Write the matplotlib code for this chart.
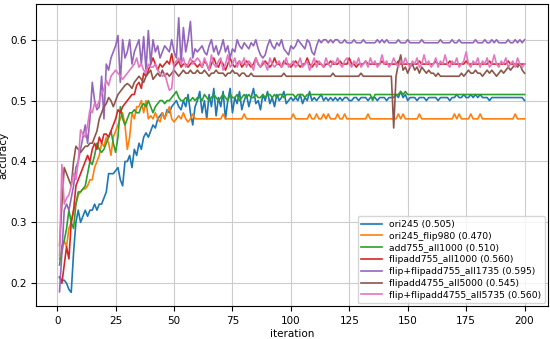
import matplotlib.pyplot as plt
import numpy as np

iteration = np.arange(1, 201)

ori245 = [
    .210, .205, .205, .200, .190, .185, .250, .300, .320, .300, .310, .320, .310, .320, .320, .330, .320, .330, .330, .340,
    .350, .380, .380, .380, .385, .390, .370, .360, .400, .400, .410, .390, .420, .410, .430, .420, .440, .447, .440, .450,
    .460, .455, .470, .475, .480, .470, .485, .480, .490, .495, .500, .490, .485, .500, .490, .510, .480, .460, .490, .500,
    .515, .480, .500, .470, .510, .490, .520, .475, .505, .490, .515, .470, .500, .520, .480, .505, .495, .515, .485, .500,
    .510, .490, .505, .520, .495, .500, .485, .510, .500, .515, .495, .505, .490, .510, .500, .505, .515, .495, .500, .505,
    .500, .505, .500, .510, .495, .505, .500, .515, .500, .505, .500, .505, .510, .500, .505, .500, .505, .500, .505, .500,
    .505, .500, .505, .505, .500, .500, .505, .505, .500, .505, .505, .505, .500, .505, .505, .505, .500, .505, .505, .505,
    .500, .505, .505, .505, .510, .505, .515, .505, .510, .500, .505, .505, .505, .500, .505, .505, .505, .500, .505, .505,
    .505, .505, .500, .505, .505, .505, .505, .500, .505, .505, .510, .505, .505, .510, .505, .505, .510, .505, .510, .505,
    .510, .505, .505, .505, .500, .505, .505, .505, .505, .505, .505, .505, .505, .505, .505, .505, .505, .505, .505, .500,
]

ori245_flip980 = [
    .240, .250, .270, .260, .290, .300, .320, .330, .345, .350, .355, .355, .360, .370, .370, .390, .400, .410, .430, .425,
    .440, .430, .410, .440, .450, .460, .470, .480, .460, .420, .440, .480, .470, .490, .490, .500, .480, .500, .470, .475,
    .470, .480, .470, .465, .480, .470, .480, .490, .470, .465, .470, .475, .470, .480, .470, .465, .470, .478, .470, .470,
    .470, .470, .470, .470, .470, .470, .470, .470, .470, .470, .478, .470, .470, .470, .470, .470, .470, .470, .470, .478,
    .470, .470, .470, .470, .470, .470, .470, .470, .470, .470, .470, .470, .470, .470, .470, .470, .470, .470, .470, .470,
    .478, .470, .470, .470, .470, .470, .470, .478, .470, .470, .478, .470, .470, .478, .470, .478, .470, .470, .470, .478,
    .470, .470, .478, .470, .470, .470, .470, .470, .470, .470, .470, .470, .478, .470, .470, .470, .470, .470, .470, .470,
    .470, .470, .470, .470, .470, .478, .470, .478, .470, .470, .470, .470, .470, .470, .478, .470, .470, .470, .470, .470,
    .470, .470, .470, .470, .470, .470, .470, .470, .470, .478, .470, .478, .470, .470, .470, .470, .478, .470, .470, .470,
    .478, .470, .470, .470, .470, .470, .470, .470, .470, .470, .470, .470, .470, .470, .470, .478, .470, .470, .470, .470,
]

add755_all1000 = [
    .230, .260, .270, .290, .320, .300, .290, .330, .350, .350, .355, .360, .380, .400, .395, .410, .430, .420, .415, .420,
    .430, .440, .450, .430, .415, .440, .490, .470, .460, .470, .480, .480, .485, .480, .480, .490, .495, .490, .500, .490,
    .480, .490, .495, .500, .500, .495, .500, .500, .505, .510, .515, .505, .500, .500, .505, .500, .500, .505, .500, .505,
    .505, .500, .510, .505, .500, .505, .510, .505, .500, .505, .510, .505, .500, .510, .505, .505, .510, .500, .505, .510,
    .505, .510, .505, .505, .510, .505, .505, .510, .505, .510, .510, .505, .510, .505, .510, .510, .505, .510, .510, .510,
    .510, .505, .510, .510, .510, .505, .510, .510, .510, .510, .510, .510, .510, .510, .510, .510, .510, .510, .510, .510,
    .510, .510, .510, .510, .510, .510, .510, .510, .510, .510, .510, .510, .510, .510, .500, .510, .510, .510, .510, .510,
    .510, .510, .510, .510, .510, .510, .515, .510, .515, .510, .510, .510, .510, .510, .510, .510, .510, .510, .510, .510,
    .510, .510, .510, .510, .510, .510, .510, .510, .510, .510, .510, .510, .510, .510, .510, .510, .510, .510, .510, .510,
    .510, .510, .510, .510, .510, .510, .510, .510, .510, .510, .510, .510, .510, .510, .510, .510, .510, .510, .510, .510,
]

flipadd755_all1000 = [
    .210, .200, .230, .260, .240, .300, .320, .360, .370, .380, .390, .400, .410, .400, .420, .430, .420, .440, .430, .445,
    .445, .440, .450, .460, .470, .485, .480, .490, .495, .500, .505, .510, .510, .525, .530, .520, .545, .540, .550, .560,
    .570, .560, .550, .560, .555, .560, .565, .560, .577, .555, .560, .565, .555, .560, .560, .555, .560, .565, .560, .555,
    .560, .555, .565, .560, .550, .560, .570, .560, .555, .565, .560, .550, .560, .570, .560, .555, .560, .565, .555, .560,
    .565, .560, .555, .560, .570, .560, .555, .560, .565, .560, .555, .560, .570, .560, .560, .555, .565, .560, .560, .555,
    .560, .565, .560, .555, .560, .560, .570, .560, .555, .560, .565, .560, .560, .555, .560, .560, .565, .560, .560, .560,
    .565, .560, .560, .560, .570, .560, .560, .555, .560, .560, .560, .565, .560, .560, .560, .560, .560, .560, .565, .560,
    .560, .560, .560, .560, .560, .565, .560, .560, .560, .560, .560, .560, .560, .560, .565, .560, .560, .560, .560, .560,
    .560, .565, .560, .560, .560, .560, .560, .565, .560, .560, .560, .560, .560, .560, .565, .560, .560, .560, .560, .560,
    .560, .560, .560, .560, .565, .560, .560, .560, .560, .560, .560, .560, .565, .560, .560, .560, .560, .560, .560, .560,
]

flip_flipadd755_all1735 = [
    .186, .250, .320, .330, .320, .340, .360, .390, .400, .420, .440, .460, .430, .470, .530, .500, .485, .490, .540, .470,
    .560, .550, .570, .580, .590, .607, .530, .600, .570, .580, .600, .560, .580, .590, .600, .560, .605, .550, .615, .560,
    .600, .580, .590, .570, .580, .590, .585, .580, .600, .580, .570, .636, .560, .620, .580, .600, .630, .570, .585, .580,
    .585, .590, .580, .575, .590, .600, .580, .590, .575, .585, .600, .580, .590, .570, .585, .580, .600, .590, .585, .595,
    .590, .585, .595, .590, .600, .585, .575, .570, .575, .590, .600, .590, .585, .595, .590, .600, .585, .580, .575, .590,
    .585, .590, .600, .595, .590, .585, .600, .595, .580, .575, .590, .600, .595, .600, .600, .595, .600, .595, .600, .600,
    .595, .595, .600, .595, .595, .595, .600, .595, .595, .595, .600, .595, .595, .595, .595, .595, .600, .595, .600, .595,
    .600, .595, .595, .595, .595, .600, .595, .595, .595, .600, .595, .595, .595, .595, .595, .600, .595, .595, .595, .595,
    .595, .595, .595, .600, .595, .595, .595, .595, .600, .595, .595, .600, .595, .595, .595, .595, .595, .595, .600, .595,
    .595, .595, .600, .595, .595, .600, .595, .600, .595, .595, .595, .595, .600, .595, .595, .600, .595, .600, .595, .600,
]

flipadd4755_all5000 = [
    .262, .330, .390, .380, .370, .360, .400, .425, .420, .415, .420, .425, .425, .430, .430, .440, .450, .470, .480, .490,
    .495, .505, .500, .490, .500, .510, .515, .520, .525, .528, .525, .520, .530, .535, .540, .535, .530, .540, .545, .550,
    .535, .540, .545, .540, .550, .540, .545, .540, .545, .550, .545, .540, .545, .550, .545, .545, .550, .545, .545, .550,
    .545, .545, .550, .545, .540, .545, .545, .550, .545, .545, .545, .540, .545, .545, .550, .545, .545, .540, .545, .545,
    .540, .540, .545, .540, .540, .540, .540, .540, .540, .540, .540, .540, .540, .540, .540, .540, .545, .540, .540, .540,
    .540, .540, .540, .540, .540, .540, .540, .540, .540, .540, .540, .540, .540, .540, .540, .540, .540, .545, .540, .540,
    .540, .540, .540, .540, .540, .540, .540, .540, .540, .545, .540, .540, .540, .540, .540, .540, .540, .540, .540, .540,
    .540, .540, .540, .455, .540, .560, .575, .550, .555, .545, .555, .560, .550, .555, .545, .555, .550, .545, .550, .545,
    .545, .540, .545, .540, .540, .540, .540, .540, .540, .540, .540, .540, .545, .540, .545, .550, .545, .545, .550, .545,
    .545, .540, .545, .550, .545, .550, .545, .540, .545, .550, .545, .550, .555, .550, .555, .560, .555, .560, .550, .545,
]

flip_flipadd4755_all5735 = [
    .245, .395, .330, .340, .345, .360, .380, .370, .400, .452, .445, .440, .460, .485, .480, .496, .490, .500, .510, .520,
    .533, .525, .540, .545, .550, .545, .540, .535, .540, .545, .550, .555, .560, .570, .555, .560, .550, .545, .560, .555,
    .555, .560, .550, .545, .540, .545, .530, .517, .520, .560, .565, .570, .560, .570, .555, .560, .570, .560, .565, .570,
    .565, .555, .570, .560, .550, .575, .560, .555, .565, .570, .550, .560, .575, .555, .560, .570, .555, .565, .560, .570,
    .555, .565, .560, .550, .570, .560, .555, .565, .560, .550, .570, .560, .555, .560, .565, .555, .560, .570, .555, .560,
    .565, .555, .560, .570, .555, .560, .565, .550, .560, .570, .555, .565, .560, .555, .570, .560, .555, .565, .560, .570,
    .560, .555, .565, .570, .560, .555, .565, .560, .570, .555, .560, .565, .555, .570, .560, .565, .555, .560, .575, .560,
    .565, .555, .560, .570, .560, .555, .565, .560, .570, .560, .555, .565, .560, .570, .555, .560, .575, .560, .565, .555,
    .560, .570, .555, .565, .560, .575, .560, .555, .565, .560, .570, .555, .560, .565, .580, .560, .555, .565, .560, .570,
    .555, .565, .560, .570, .555, .560, .575, .560, .555, .565, .560, .570, .555, .560, .565, .555, .570, .560, .555, .560,
]

series = [ori245, ori245_flip980, add755_all1000, flipadd755_all1000,
          flip_flipadd755_all1735, flipadd4755_all5000, flip_flipadd4755_all5735]
labels = ["ori245 (0.505)", "ori245_flip980 (0.470)", "add755_all1000 (0.510)",
          "flipadd755_all1000 (0.560)", "flip+flipadd755_all1735 (0.595)",
          "flipadd4755_all5000 (0.545)", "flip+flipadd4755_all5735 (0.560)"]

fig = plt.figure(figsize=(5.5, 3.39), dpi=100)
ax = fig.add_axes([0.066, 0.097, 0.93, 0.891])
for s, lab in zip(series, labels):
    ax.plot(iteration, s, lw=1.2, label=lab)

ax.set_xticks(np.arange(0, 201, 25))
ax.grid(True, color="#cccccc", lw=0.8)
ax.tick_params(labelsize=7.5)
ax.set_xlabel("iteration", fontsize=7.5, labelpad=2)
ax.set_ylabel("accuracy", fontsize=7.5, labelpad=1)
ax.legend(loc="lower right", fontsize=6.7, handlelength=2.2, borderpad=0.4,
          labelspacing=0.3, borderaxespad=0.3)

fig.savefig("out.png", dpi=100)
